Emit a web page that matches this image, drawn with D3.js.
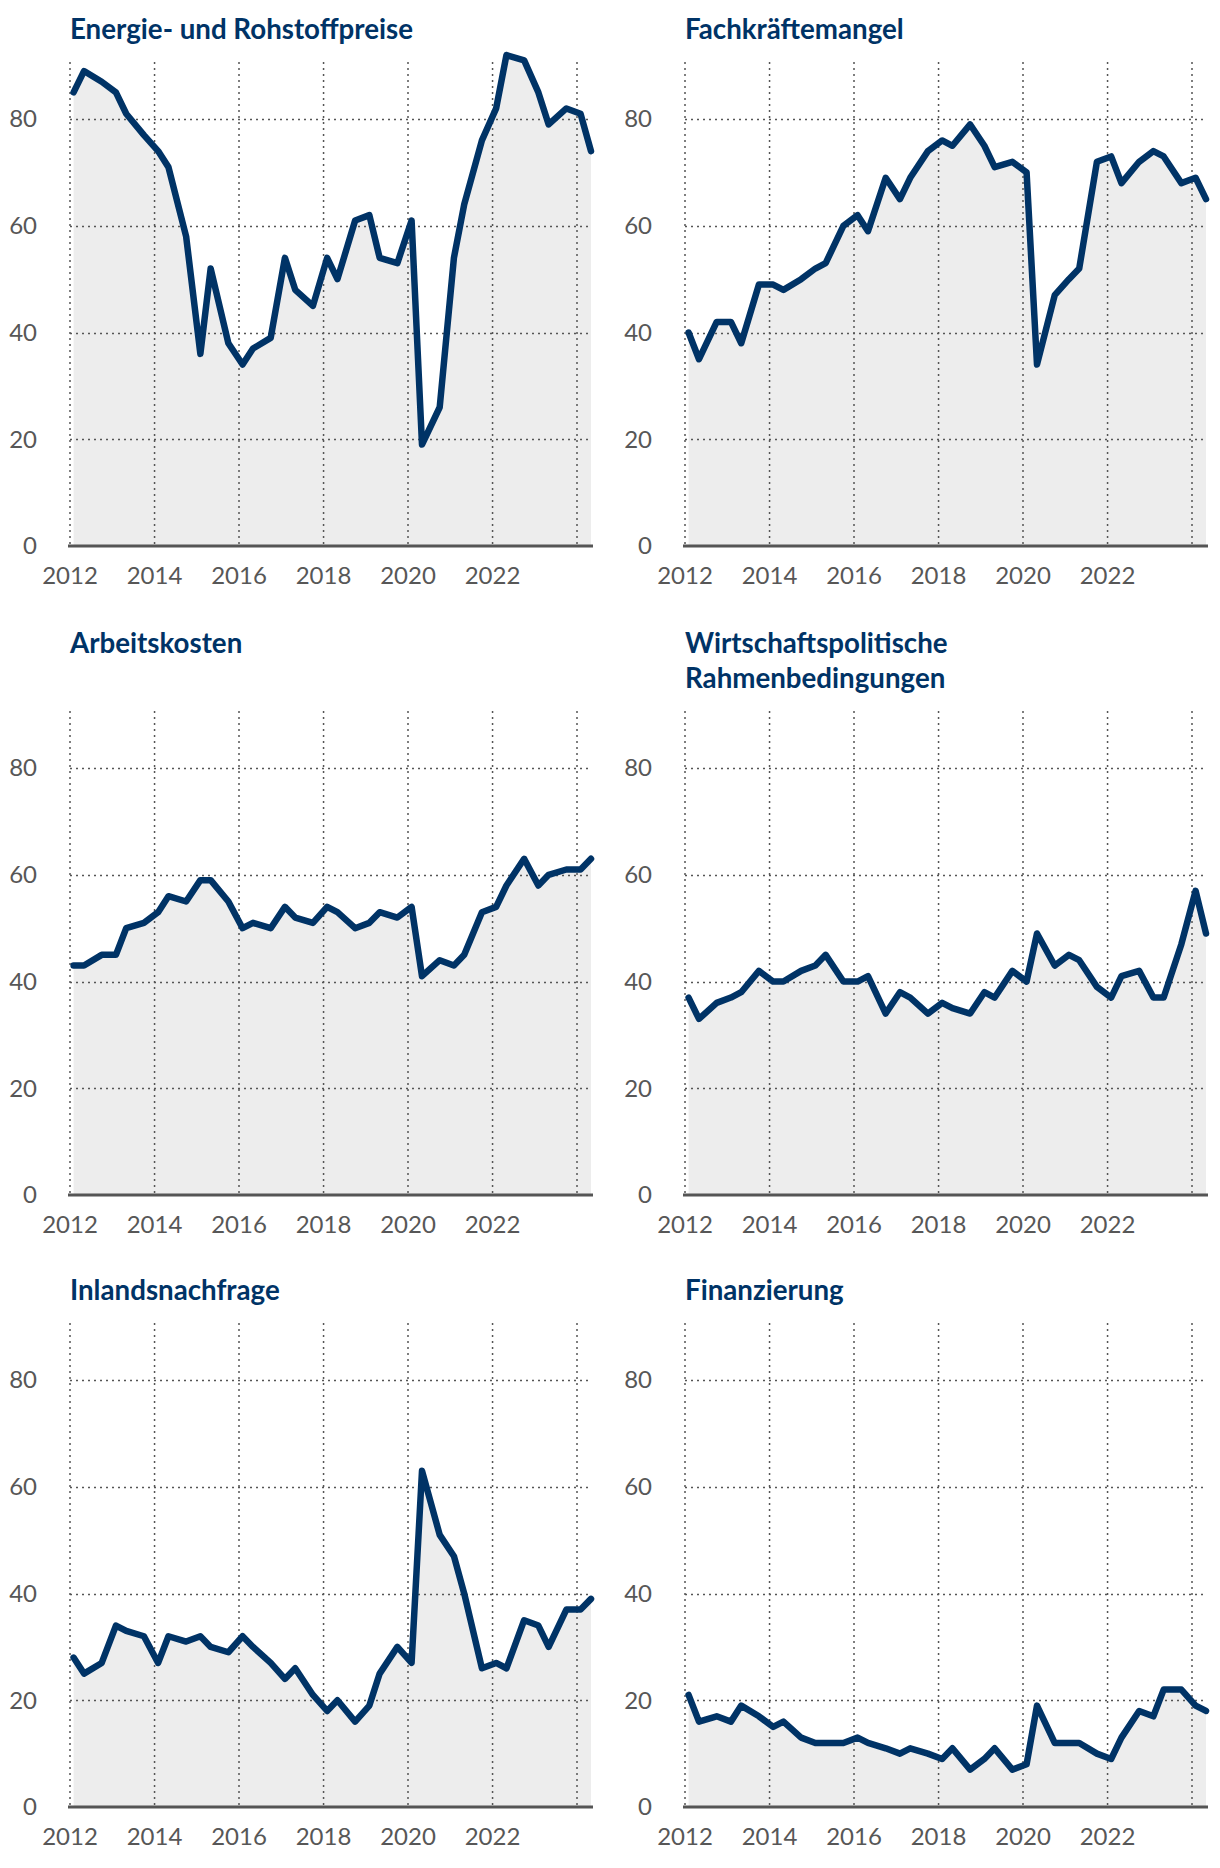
<!DOCTYPE html>
<html><head><meta charset="utf-8">
<script src="https://cdn.jsdelivr.net/npm/d3@7"></script>
<style>
body{margin:0;background:#fff}
.tick-label{font-family:Lato, "Liberation Sans", sans-serif;font-size:24px;fill:#575757}
.title{font-family:Lato, "Liberation Sans", sans-serif;font-weight:700;font-size:27.7px;fill:#003366}
</style>
</head><body>
<svg id="c" width="1220" height="1868" xmlns="http://www.w3.org/2000/svg"></svg>
<script>
// Survey dates (start of year, early summer, autumn)
const dates = [
  "2012-02","2012-05","2012-10","2013-02","2013-05","2013-10",
  "2014-02","2014-05","2014-10","2015-02","2015-05","2015-10",
  "2016-02","2016-05","2016-10","2017-02","2017-05","2017-10",
  "2018-02","2018-05","2018-10","2019-02","2019-05","2019-10",
  "2020-02","2020-05","2020-10","2021-02","2021-05","2021-10",
  "2022-02","2022-05","2022-10","2023-02","2023-05","2023-10",
  "2024-02","2024-05"
];
const energie = [85,89,87,85,81,77,74,71,58,36,52,38,34,37,39,54,48,45,54,50,61,62,54,53,61,19,26,54,64,76,82,92,91,85,79,82,81,74];
const fachkraefte = [40,35,42,42,38,49,49,48,50,52,53,60,62,59,69,65,69,74,76,75,79,75,71,72,70,34,47,50,52,72,73,68,72,74,73,68,69,65];
const arbeitskosten = [43,43,45,45,50,51,53,56,55,59,59,55,50,51,50,54,52,51,54,53,50,51,53,52,54,41,44,43,45,53,54,58,63,58,60,61,61,63];
const wirtschaftspolitik = [37,33,36,37,38,42,40,40,42,43,45,40,40,41,34,38,37,34,36,35,34,38,37,42,40,49,43,45,44,39,37,41,42,37,37,47,57,49];
const inlandsnachfrage = [28,25,27,34,33,32,27,32,31,32,30,29,32,30,27,24,26,21,18,20,16,19,25,30,27,63,51,47,40,26,27,26,35,34,30,37,37,39];
const finanzierung = [21,16,17,16,19,17,15,16,13,12,12,12,13,12,11,10,11,10,9,11,7,9,11,7,8,19,12,12,12,10,9,13,18,17,22,22,19,18];

const titles = [
  ["Energie- und Rohstoffpreise"],
  ["Fachkräftemangel"],
  ["Arbeitskosten"],
  ["Wirtschaftspolitische","Rahmenbedingungen"],
  ["Inlandsnachfrage"],
  ["Finanzierung"]
];
const seriesList = [energie, fachkraefte, arbeitskosten, wirtschaftspolitik, inlandsnachfrage, finanzierung];
const yTicks = [0,20,40,60,80];
const xGridYears = [2012,2014,2016,2018,2020,2022,2024];
const xLabelYears = [2012,2014,2016,2018,2020,2022];

const parse = d3.timeParse("%Y-%m");
const dateObjs = dates.map(parse);

const svg = d3.select("#c");
const colX = [70, 685];
const plotW = 521;
const rowTop = [62, 711, 1323];
const rowTitle = [39, 653, 1300];
const plotH = 484;
const yMax = 90.7;

seriesList.forEach((vals, k) => {
  const col = k % 2, row = Math.floor(k / 2);
  const x0 = colX[col], top = rowTop[row], bottom = top + plotH;
  const x = d3.scaleTime().domain([new Date(2012,0,1), new Date(2024,4,1)]).range([x0, x0 + plotW]);
  const y = d3.scaleLinear().domain([0, yMax]).range([bottom, top]);
  const g = svg.append("g");
  const data = vals.map((v,i)=>({d:dateObjs[i], v}));

  // area
  g.append("path").datum(data)
    .attr("fill", "#ededed")
    .attr("d", d3.area().x(d=>x(d.d)).y0(y(0)).y1(d=>y(d.v)));

  // horizontal grid
  g.selectAll(".hg").data(yTicks.filter(t=>t>0)).enter().append("line")
    .attr("x1", x0).attr("x2", x0 + plotW)
    .attr("y1", d=>Math.round(y(d))+0.5).attr("y2", d=>Math.round(y(d))+0.5)
    .attr("stroke", "#555").attr("stroke-width", 1.7).attr("stroke-dasharray", "2,4");
  // vertical grid
  g.selectAll(".vg").data(xGridYears).enter().append("line")
    .attr("x1", d=>x(new Date(d,0,1))).attr("x2", d=>x(new Date(d,0,1)))
    .attr("y1", top).attr("y2", bottom)
    .attr("stroke", "#555").attr("stroke-width", 1.5).attr("stroke-dasharray", "2,4");

  // baseline
  g.append("line").attr("x1", x0-2).attr("x2", x0+plotW+2)
    .attr("y1", y(0)).attr("y2", y(0))
    .attr("stroke", "#555").attr("stroke-width", 3);

  // line
  g.append("path").datum(data)
    .attr("fill", "none").attr("stroke", "#003366").attr("stroke-width", 6.5)
    .attr("stroke-linejoin", "round").attr("stroke-linecap", "round")
    .attr("d", d3.line().x(d=>x(d.d)).y(d=>y(d.v)));

  // y labels
  g.selectAll(".yl").data(yTicks).enter().append("text")
    .attr("class", "tick-label")
    .attr("x", x0 - 33).attr("y", d=>y(d)).attr("dy", "0.35em")
    .attr("text-anchor", "end").text(d=>d);
  // x labels
  g.selectAll(".xl").data(xLabelYears).enter().append("text")
    .attr("class", "tick-label")
    .attr("x", d=>x(new Date(d,0,1))).attr("y", bottom + 38)
    .attr("text-anchor", "middle").text(d=>d);

  // title
  const t = g.append("text").attr("class", "title").attr("x", x0).attr("y", rowTitle[row]);
  titles[k].forEach((line, li) => {
    t.append("tspan").attr("x", x0).attr("dy", li === 0 ? 0 : 35).text(line);
  });
});
</script>
</body></html>
